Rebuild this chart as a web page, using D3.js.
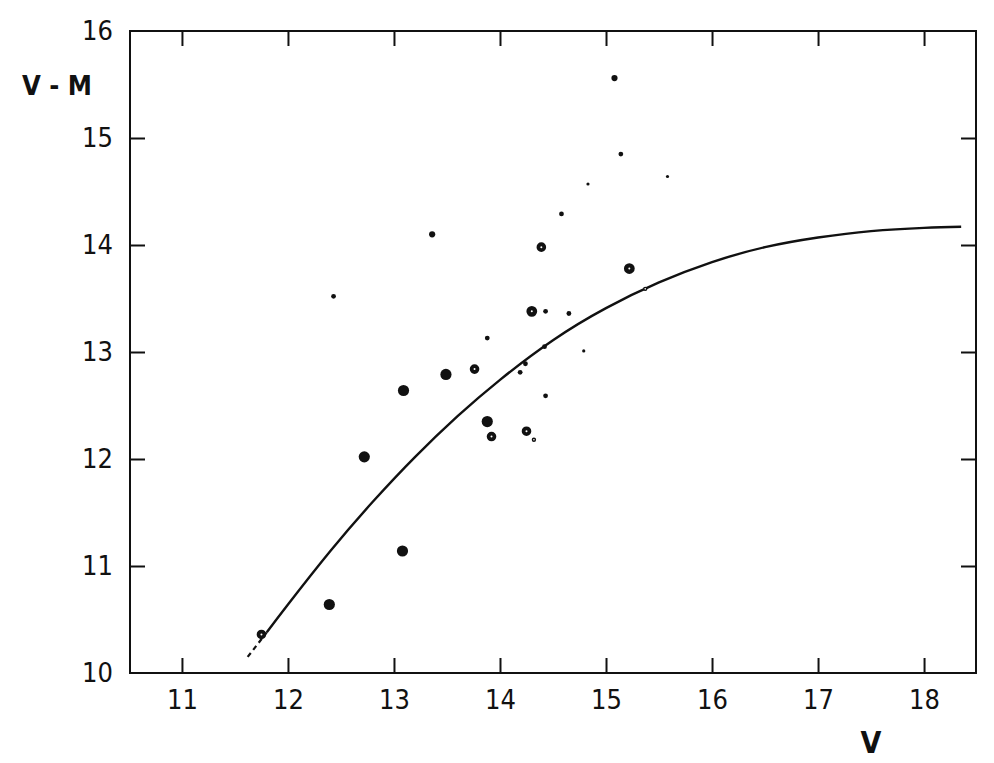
<!DOCTYPE html>
<html>
<head>
<meta charset="utf-8">
<script src="https://cdn.jsdelivr.net/npm/d3@7"></script>
<style>
  body { margin: 0; background: #fff; }
  svg { display: block; }
  .tick text { font-family: "Liberation Sans Narrow", "DejaVu Sans Condensed", "Liberation Sans", sans-serif; font-size: 27px; fill: #111; }
  .title { font-family: "Liberation Sans Narrow", "DejaVu Sans Condensed", "Liberation Sans", sans-serif; font-weight: bold; fill: #111; }
</style>
</head>
<body>
<svg id="chart"></svg>
<script>
// Observed stars: apparent magnitude V, distance modulus V - M, marker class
const starV = [15.08, 15.14, 14.83, 15.58, 14.58, 13.36, 14.39, 15.22, 15.37, 14.30,
               14.43, 14.65, 13.88, 14.42, 14.79, 14.24, 14.19, 13.76, 13.49, 13.09,
               14.43, 13.88, 13.92, 14.25, 14.32, 12.72, 13.08, 12.39, 11.75, 12.43];
const starVM = [15.56, 14.85, 14.57, 14.64, 14.29, 14.10, 13.98, 13.78, 13.59, 13.38,
                13.38, 13.36, 13.13, 13.05, 13.01, 12.89, 12.81, 12.84, 12.79, 12.64,
                12.59, 12.35, 12.21, 12.26, 12.18, 12.02, 11.14, 10.64, 10.36, 13.52];
const starClass = ["mid", "small", "tiny", "tiny", "small", "mid", "ring", "ringBig", "tinyRing", "ringBig",
                   "small", "small", "small", "small", "tiny", "small", "small", "ring", "big", "big",
                   "small", "big", "ring", "ring", "tinyRing", "big", "big", "big", "ring", "small"];

// Model curve
const curveV = [11.62, 11.80, 12.00, 12.40, 12.80, 13.20, 13.60, 14.00, 14.50, 15.00, 15.50, 16.00, 16.50, 17.00, 17.50, 18.00, 18.35];
const curveVM = [10.15, 10.38, 10.64, 11.14, 11.60, 12.02, 12.40, 12.74, 13.11, 13.41, 13.65, 13.84, 13.98, 14.07, 14.13, 14.16, 14.17];

const xTicks = [11, 12, 13, 14, 15, 16, 17, 18];
const yTicks = [10, 11, 12, 13, 14, 15, 16];

const width = 994, height = 763;
const plotLeft = 130, plotRight = 976, plotTop = 31, plotBottom = 673;

const svg = d3.select("#chart").attr("width", width).attr("height", height);

const x = d3.scaleLinear().domain([10.51, 18.49]).range([plotLeft, plotRight]);
const y = d3.scaleLinear().domain([10, 16]).range([plotBottom, plotTop]);

// marker look per class (rings are heavy black circles with a small white eye)
const markStyle = {
    big:      { r: 5.6, sw: 0,   fill: "#111" },
    mid:      { r: 3.1, sw: 0,   fill: "#111" },
    small:    { r: 2.4, sw: 0,   fill: "#111" },
    tiny:     { r: 1.6, sw: 0,   fill: "#111" },
    ring:     { r: 2.9, sw: 3.8, fill: "#fff" },
    ringBig:  { r: 3.2, sw: 4.4, fill: "#fff" },
    tinyRing: { r: 1.5, sw: 1.4, fill: "#fff" }
};

// frame
svg.append("rect")
    .attr("x", plotLeft).attr("y", plotTop)
    .attr("width", plotRight - plotLeft).attr("height", plotBottom - plotTop)
    .attr("fill", "none").attr("stroke", "#111").attr("stroke-width", 2);

function styleAxis(g) {
    g.select(".domain").remove();
    g.selectAll(".tick line").attr("stroke", "#111").attr("stroke-width", 2);
}

// bottom axis with labels, ticks pointing inward
svg.append("g")
    .attr("transform", `translate(0,${plotBottom})`)
    .call(d3.axisBottom(x).tickValues(xTicks).tickSize(-15).tickPadding(17).tickFormat(d3.format("d")))
    .call(styleAxis);

// top axis, ticks only
svg.append("g")
    .attr("transform", `translate(0,${plotTop})`)
    .call(d3.axisTop(x).tickValues(xTicks).tickSize(-15).tickFormat(""))
    .call(styleAxis);

// left axis with labels
svg.append("g")
    .attr("transform", `translate(${plotLeft},0)`)
    .call(d3.axisLeft(y).tickValues(yTicks).tickSize(-15).tickPadding(17).tickFormat(d3.format("d")))
    .call(styleAxis)
    .selectAll(".tick line").filter(d => d === 10 || d === 16).remove();

// right axis, ticks only
svg.append("g")
    .attr("transform", `translate(${plotRight},0)`)
    .call(d3.axisRight(y).tickValues(yTicks.filter(d => d > 10 && d < 16)).tickSize(-15).tickFormat(""))
    .call(styleAxis);

// axis titles
svg.append("text").attr("class", "title")
    .attr("x", 22).attr("y", 95)
    .style("font-size", "27px")
    .text("V - M");

svg.append("text").attr("class", "title")
    .attr("x", 871).attr("y", 753)
    .attr("text-anchor", "middle")
    .style("font-size", "30px")
    .text("V");

// curve: dashed near the faint end, solid after
const curvePts = curveV.map((v, i) => [v, curveVM[i]]);
const line = d3.line()
    .x(d => x(d[0]))
    .y(d => y(d[1]))
    .curve(d3.curveNatural);

svg.append("path")
    .datum(curvePts.slice(0, 2))
    .attr("d", line)
    .attr("fill", "none").attr("stroke", "#111").attr("stroke-width", 2.2)
    .attr("stroke-dasharray", "5 4");

svg.append("path")
    .datum(curvePts.slice(1))
    .attr("d", line)
    .attr("fill", "none").attr("stroke", "#111").attr("stroke-width", 2.4);

// stars
const stars = starV.map((v, i) => ({ v: v, vm: starVM[i], cls: starClass[i] }));

svg.selectAll(".star")
    .data(stars)
    .enter().append("circle")
    .attr("class", "star")
    .attr("cx", d => x(d.v))
    .attr("cy", d => y(d.vm))
    .attr("r", d => markStyle[d.cls].r)
    .attr("fill", d => markStyle[d.cls].fill)
    .attr("stroke", "#111")
    .attr("stroke-width", d => markStyle[d.cls].sw);
</script>
</body>
</html>
